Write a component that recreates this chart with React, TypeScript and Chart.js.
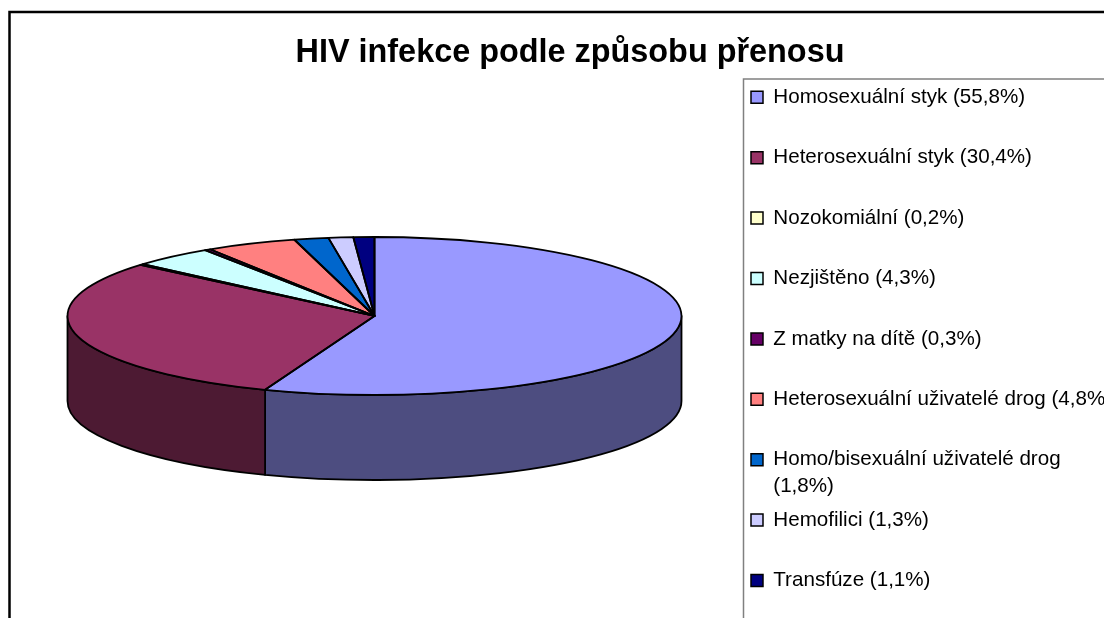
import React, { useEffect, useRef } from "react";
import { Chart, registerables } from "chart.js";

Chart.register(...registerables);

const titleText = "HIV infekce podle způsobu přenosu";
const labelLines: string[][] = [
  ["Homosexuální styk (55,8%)"],
  ["Heterosexuální styk (30,4%)"],
  ["Nozokomiální (0,2%)"],
  ["Nezjištěno (4,3%)"],
  ["Z matky na dítě (0,3%)"],
  ["Heterosexuální uživatelé drog (4,8%)"],
  ["Homo/bisexuální uživatelé drog", "(1,8%)"],
  ["Hemofilici (1,3%)"],
  ["Transfúze (1,1%)"],
];
const shares = [55.8, 30.4, 0.2, 4.3, 0.3, 4.8, 1.8, 1.3, 1.1];
const colors = ["#9999FF", "#993366", "#FFFFCC", "#CCFFFF", "#660066", "#FF8080", "#0066CC", "#CCCCFF", "#000080"];

const CANVAS_W = 1124;
const CANVAS_H = 800;
const RADIUS_X = 307;
const RADIUS_Y = 79;
const DEPTH = 85;
const SQUASH = RADIUS_Y / RADIUS_X;
const LEGEND_FONT = 20.6;
const LEGEND_PITCH = 60.4;
const LEGEND_PAD = LEGEND_PITCH - LEGEND_FONT;
const LEGEND_BOX = 12;
const LEGEND_X = 743;
const LEGEND_Y = 79;
const WRAP_LINE = 27;

function halfColor(hex: string) {
  const n = parseInt(hex.slice(1), 16);
  const h = (v: number) => Math.round(v / 2);
  return `rgb(${h((n >> 16) & 255)},${h((n >> 8) & 255)},${h(n & 255)})`;
}

const pie3d = {
  id: "pie3d",
  afterLayout(chart: any) {
    const legend = chart.legend;
    legend.left = LEGEND_X - LEGEND_PAD;
    legend.top = LEGEND_Y - LEGEND_PAD;
    legend.bottom = CANVAS_H;
    legend.maxHeight = CANVAS_H;
    legend.fit();
  },
  beforeDraw(chart: any) {
    const { ctx } = chart;
    ctx.save();
    ctx.strokeStyle = "#000";
    ctx.lineWidth = 2.5;
    ctx.strokeRect(1.5, 4, CANVAS_W - 3, CANVAS_H - 8);
    ctx.strokeStyle = "#808080";
    ctx.lineWidth = 1.5;
    ctx.beginPath();
    ctx.moveTo(735.5, CANVAS_H);
    ctx.lineTo(735.5, 71);
    ctx.lineTo(CANVAS_W, 71);
    ctx.stroke();
    ctx.restore();
  },
  beforeDatasetsDraw(chart: any) {
    const { ctx } = chart;
    const arcs = chart.getDatasetMeta(0).data;
    ctx.save();
    ctx.lineWidth = 1.8;
    ctx.strokeStyle = "#000";
    ctx.lineJoin = "round";
    arcs.forEach((arc: any, i: number) => {
      const a0 = Math.max(arc.startAngle, 0);
      const a1 = Math.min(arc.endAngle, Math.PI);
      if (a1 <= a0) return;
      ctx.beginPath();
      ctx.ellipse(arc.x, arc.y, arc.outerRadius, arc.outerRadius * SQUASH, 0, a0, a1);
      ctx.ellipse(arc.x, arc.y + DEPTH, arc.outerRadius, arc.outerRadius * SQUASH, 0, a1, a0, true);
      ctx.closePath();
      ctx.fillStyle = halfColor(colors[i]);
      ctx.fill();
      ctx.stroke();
    });
    ctx.restore();
    const { x, y } = arcs[0];
    ctx.save();
    ctx.translate(x, y);
    ctx.scale(1, SQUASH);
    ctx.translate(-x, -y);
  },
  afterDatasetsDraw(chart: any) {
    const { ctx } = chart;
    ctx.restore();
    const arcs = chart.getDatasetMeta(0).data;
    ctx.save();
    ctx.lineWidth = 1.8;
    ctx.strokeStyle = "#000";
    ctx.lineJoin = "round";
    arcs.forEach((arc: any) => {
      ctx.beginPath();
      ctx.ellipse(arc.x, arc.y, arc.outerRadius, arc.outerRadius * SQUASH, 0, arc.startAngle, arc.endAngle);
      ctx.lineTo(arc.x, arc.y);
      ctx.closePath();
      ctx.stroke();
    });
    ctx.restore();
  },
  afterDraw(chart: any) {
    const { ctx } = chart;
    ctx.save();
    ctx.fillStyle = "#000";
    ctx.font = `${LEGEND_FONT}px "Liberation Sans", Arial, sans-serif`;
    ctx.textBaseline = "middle";
    labelLines.forEach((lines, i) => {
      lines.slice(1).forEach((line, j) => {
        ctx.fillText(
          line,
          LEGEND_X + LEGEND_BOX + LEGEND_FONT / 2,
          LEGEND_Y + i * LEGEND_PITCH + LEGEND_FONT / 2 + (j + 1) * WRAP_LINE
        );
      });
    });
    ctx.restore();
  },
};

export default function App() {
  const ref = useRef<HTMLCanvasElement>(null);
  useEffect(() => {
    document.documentElement.style.overflow = "hidden";
    document.body.style.overflow = "hidden";
    const chart = new Chart(ref.current!, {
      type: "pie",
      data: {
        labels: labelLines.map((l) => l.join(" ")),
        datasets: [
          {
            data: shares,
            backgroundColor: colors,
            borderWidth: 0,
            radius: RADIUS_X,
            clip: false,
          } as any,
        ],
      },
      options: {
        responsive: false,
        animation: false,
        layout: { padding: { bottom: 248.9 } },
        plugins: {
          tooltip: { enabled: false },
          title: {
            display: true,
            text: titleText,
            color: "#000",
            font: { family: '"Liberation Sans", Arial, sans-serif', size: 32.4, weight: "bold" },
            padding: { top: 26, bottom: 0 },
          },
          legend: {
            position: "right",
            align: "start",
            maxWidth: 391,
            labels: {
              color: "#000",
              font: { family: '"Liberation Sans", Arial, sans-serif', size: LEGEND_FONT },
              boxWidth: LEGEND_BOX,
              boxHeight: LEGEND_BOX,
              padding: LEGEND_PAD,
              generateLabels: () =>
                labelLines.map((l, i) => ({
                  text: l[0],
                  fillStyle: colors[i],
                  strokeStyle: "#000",
                  lineWidth: 1.5,
                  hidden: false,
                  index: i,
                })),
            },
          },
        },
      },
      plugins: [pie3d],
    } as any);
    return () => chart.destroy();
  }, []);
  return (
    <div style={{ width: CANVAS_W, height: 610, overflow: "hidden" }}>
      <canvas ref={ref} width={CANVAS_W} height={CANVAS_H} style={{ display: "block" }} />
    </div>
  );
}
